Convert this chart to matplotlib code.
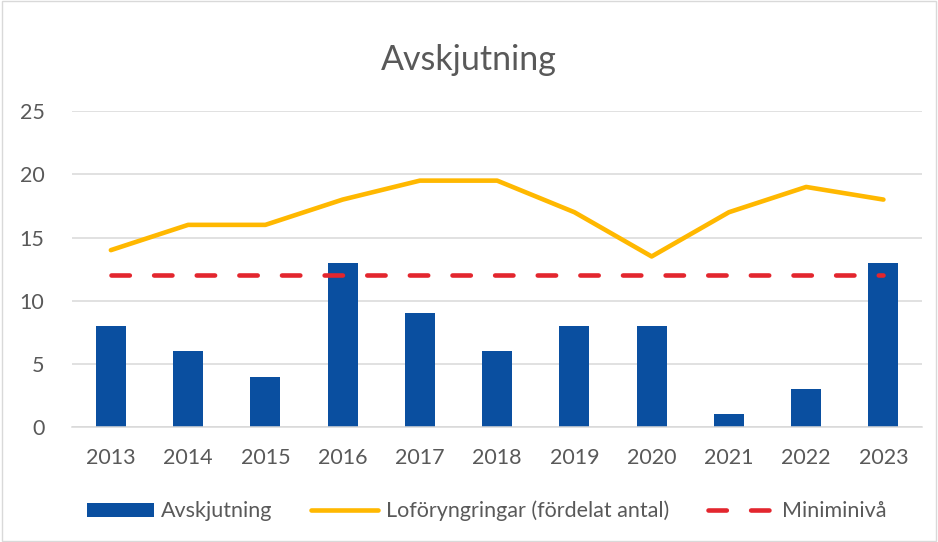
import matplotlib.pyplot as plt
from matplotlib.patches import Rectangle

plt.rcParams['font.family'] = ['Lato', 'DejaVu Sans']

years = ['2013', '2014', '2015', '2016', '2017', '2018', '2019', '2020', '2021', '2022', '2023']
avskjutning = [8, 6, 4, 13, 9, 6, 8, 8, 1, 3, 13]
foryngringar = [14, 16, 16, 18, 19.5, 19.5, 17, 13.5, 17, 19, 18]
miniminiva = [12] * len(years)

blue = '#0A4FA0'
yellow = '#FFB800'
red = '#E3262E'
text_gray = '#595959'

fig = plt.figure(figsize=(9.38, 5.42), dpi=100, facecolor='white')
ax = fig.add_axes([0.077, 0.212, 0.906, 0.583])

x = range(len(years))
bars = ax.bar(x, avskjutning, width=0.39, color=blue, label='Avskjutning', zorder=2)
line, = ax.plot(x, foryngringar, color=yellow, lw=3.3, solid_capstyle='round',
                label='Loföryngringar (fördelat antal)', zorder=3)
dash, = ax.plot(x, miniminiva, color=red, lw=3.3, dashes=(4.0, 5.3), dash_capstyle='round',
                label='Miniminivå', zorder=4)

ax.set_xlim(-0.5, 10.5)
ax.set_ylim(0, 25)
ax.set_yticks([0, 5, 10, 15, 20, 25])
ax.set_xticks(list(x))
ax.set_xticklabels(years)
ax.yaxis.grid(True, color='#D9D9D9', lw=1.1, zorder=0)
ax.set_axisbelow(True)
for s in ['top', 'right', 'left']:
    ax.spines[s].set_visible(False)
ax.spines['bottom'].set_color('#D9D9D9')
ax.spines['bottom'].set_linewidth(1.1)
ax.tick_params(length=0, labelsize=15.5, labelcolor=text_gray)
ax.tick_params(axis='x', pad=15)
ax.tick_params(axis='y', pad=20)

fig.text(0.5, 0.89, 'Avskjutning', ha='center', va='center', fontsize=24.5, color=text_gray)

ax.legend(handles=[bars, line, dash], loc='center', bbox_to_anchor=(0.519, 0.057),
          bbox_transform=fig.transFigure, ncol=3, frameon=False, fontsize=15.5,
          labelcolor=text_gray, handlelength=3.1, handleheight=0.6,
          handletextpad=0.35, columnspacing=1.8)

fig.patches.append(Rectangle((0.002, 0.002), 0.996, 0.996, transform=fig.transFigure,
                             fill=False, edgecolor='#D9D9D9', lw=1))

fig.savefig('out.png', dpi=100, facecolor='white')
